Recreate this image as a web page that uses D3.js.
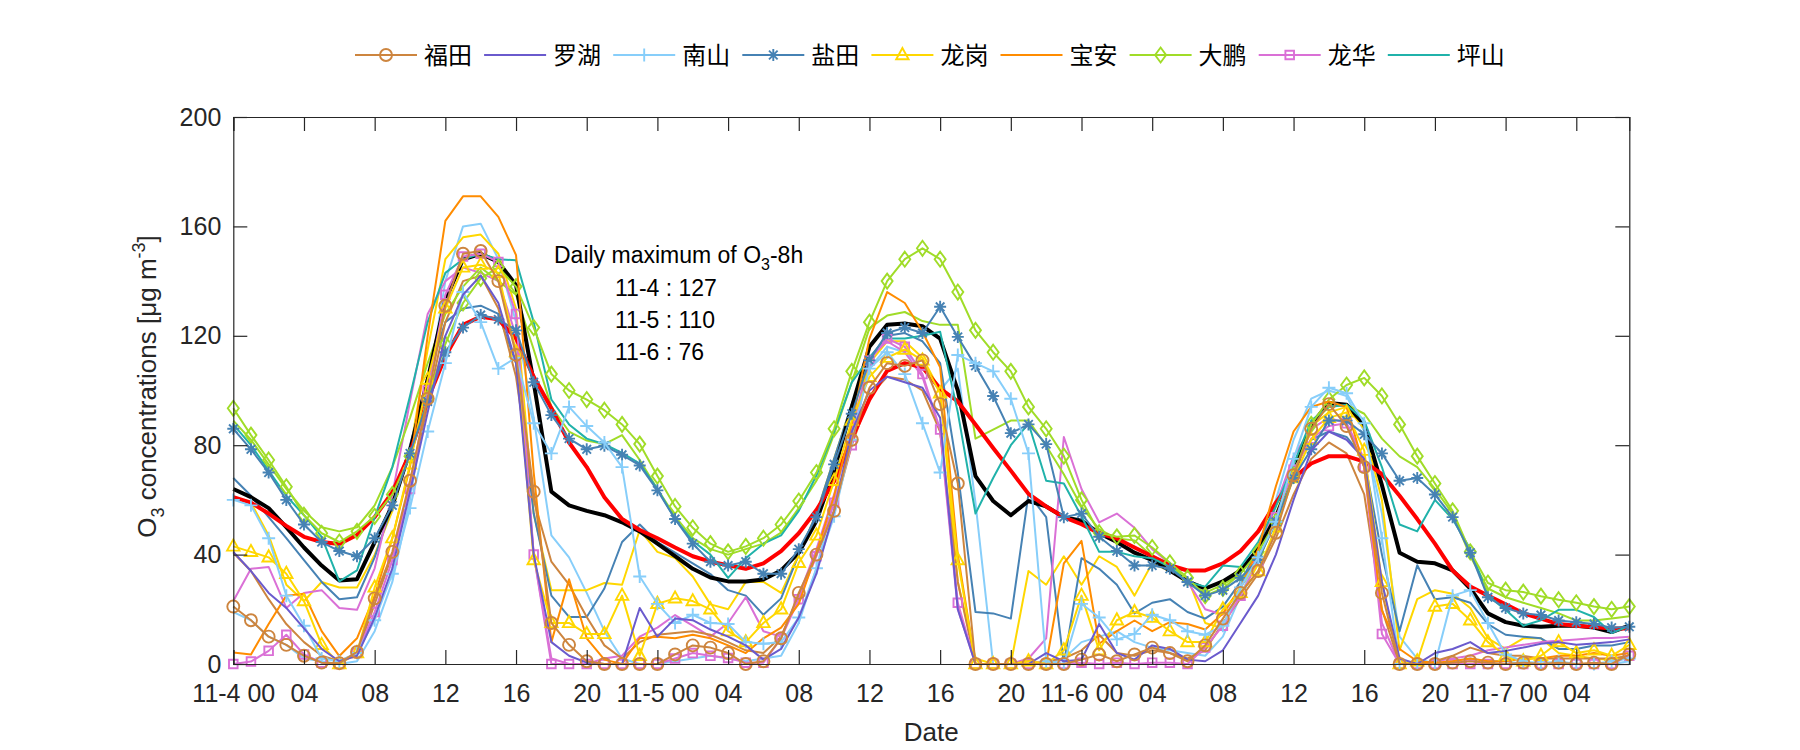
<!DOCTYPE html>
<html><head><meta charset="utf-8">
<script src="https://cdn.jsdelivr.net/npm/d3@7"></script>
<style>
body{margin:0;background:#fff;}
svg{display:block;font-family:"Liberation Sans",Arial,sans-serif;}
</style>
</head><body>
<svg id="chart" width="1800" height="750"></svg>
<script>
// ---------------- DATA ----------------
const hours = d3.range(80); // hourly index from 11-4 00
const tickHours = [0,4,8,12,16,20,24,28,32,36,40,44,48,52,56,60,64,68,72,76];
const tickLabels = ["11-4 00","04","08","12","16","20","11-5 00","04","08","12","16","20","11-6 00","04","08","12","16","20","11-7 00","04"];
const yTicks = [0,40,80,120,160,200];
const stationNames = ["福田","罗湖","南山","盐田","龙岗","宝安","大鹏","龙华","坪山"];

const futian = [21,16,10,7,3,0.5,0.3,4.4, 24,41,67,97,131,150,151,140, 113,63,15,7,1,0,0,0, 0,3.5,6.8,6,4,0,1,9.4,
  26,40,56,82,101,110,109,111, 95,66,0,0,0,0,0,0, 1.6,3.5,1,3.5,6,4,1,6.8, 16.6,26,34,48,69,86,95,87, 72,26,0,0,0,0.5,1,0.5, 0,0.5,0,0.5,0,0.5,0,3.5];
const luohu = [41,34,26,20.5,13,5.5,1,3, 17,35,63,92,120,135,142,132, 110,40,8,3,0.5,0,0,20.5, 10,16.6,16,12.6,10,6.8,1.6,5.5,
  17,33,56,85,100,105,103,101, 90,20,0,0,0,0,4,1, 1.6,14.6,4,1.6,6.8,5.5,1.6,1, 5,15,25,40,60,78,85,82, 75,30,2,0,4,5.5,8,4, 4.8,6,7.4,8,7,7.5,8,9];
const nanshan = [60,58,46,25,14,2,1,4, 16,33,57,85,110,136,125,108, 112,88,77,94,87,81,72,32, 22,15,18,15,14.6,8,7.4,8,
  17,35,54,82,108,114,106,88, 70,113,110,107,97,77,1,0, 22,17,9,11,18,16,12,10.7, 14,28,39,52,75,94,101,99, 88,46,0,0,0,25,27,15, 3.5,1,0,1,0,0,1,2];
const yantian = [86,78.5,70,60,51,44.6,41.3,39.4, 46,58,77,96,114,123,127.6,126, 122,103,91,82.4,78.5,79.8,76.5,72.6, 63.5,53,44,37.4,36,37.4,33,33,
  42,53.7,73,91.5,111,121,123,121, 130.6,119.6,109,98,84.4,87.6,80.4,53.7, 55,46.5,41.3,36,36,34.8,30,25, 27,31.5,38,52,68,78.5,89,89, 84,77,67,68,62,53.7,40.7,24.4, 20.5,18.5,17.9,15.9,15.3,14.6,13.3,13.6];
const longgang = [43,41,39,33,23,7,0,4, 28,46,73,104,130,145,146,143, 114,38,15,15,11,11,25,3, 22,24,23,20,12,8,15,20,
  37,47,67,89,105,112,115,111, 99,38,0,0,0,1,0,5, 25,5,16,19,17,12,8,8, 20,26,34,50,68,82,90,92, 78,30,0,1,21,22,16,8, 3,1,3,8,4,5,3,7];
const baoan = [4.2,3.5,14.6,25,25.7,12,2.9,9.4, 25,46,72,120,162,171,171,163.5, 149.5,70,8,31,9.4,1.6,0,9.4, 10,9.4,10.7,9.4,6.8,4,9.4,13.3,
  22,40.7,61.5,87.6,119,136,132,121.5, 108.5,40,0,0,0,1,0,36.8, 45,7.4,12,15.9,12,15.3,14.6,12.6, 18.5,28,42,65,85,94,96,94, 72,19.5,5.5,1,0.5,1,2,1, 1,2,2,3,3,4,3,4];
const dapeng = [93.5,83.7,74.6,64.8,54.4,47.8,44.6,48.5, 54,62,76,97,117,132,141,145, 138,123,106,100,96.7,92.8,87.6,80.4, 68.7,57.6,49.8,44,41,43,46,51,
  59.6,70,86,107,125,140,148,152, 148,136,122,114,107,94,86,76, 60,48,46.5,47,42.6,37,31.5,25, 27.6,33,41,52,69,87.6,96.7,102, 104.6,98,87.6,76,66,56,41,29.6, 27,26.3,24.8,23.5,22.4,21,20,21];
const longhua = [0,0.9,4.8,10.7,3.5,0.5,0,4, 19,38,64,100,135,149,150,147, 128,40,0,0,0,0,0,0, 0,2,4,3,2.2,0.5,0.5,9.4,
  23.7,39.4,59,80,111,119,116,106, 85.7,22.4,0,0,0,0,0,0, 0.5,0,0.5,0,0.5,0.5,0,6, 14,25,37.4,53.7,71,82.4,87,88, 72,11,0,0,0,0,0,0, 0,0,0,0,0,0,0,3];
const pingshan = [87.6,80,70.7,61.5,54.4,46.5,30.2,34.2, 53.7,72,98,125,143,148,150,148, 147.6,125,96.7,87.6,82.4,80.4,77.2,73.3, 64,53,45,40,31.5,38.7,44,47,
  56,69,85,103,112,119,119,120, 121.5,92,55,68,80,88,67,66, 54,41,41,39.4,38.7,35.5,30,28.3, 36,35.5,44.6,57.6,73,89,94,94.8, 89,72,51,48.5,60,53,42,25, 19.8,14,16,19.8,19.8,17.2,11.3,14];

// other monitoring stations (not in legend), same district colours, no markers
const nanshan2 = [19,16,10,7,2,1,0,1, 12,30,60,100,140,160,161,148, 125,90,47,39,26,12,2,0, 0,1,2,3,2,1,2,3,
  15,35,60,88,108,116,114,108, 100,108,59,0,0,0,0,2, 8,10,12,8,6,5,4,3, 10,25,40,60,82,97,100,98, 85,55,10,2,0,1,2,1, 1,0,1,0,0,0,0,1];
const longgang2 = [61,59,47,29,23,30,28,28, 40,56,78,115,148,156,157,150, 130,55,27,27,27,29.6,29,49, 41,38.7,32,21.8,20,30,30,26,
  40,55,75,95,110,118,118,112, 100,30,2,0,0,34,29,39.4, 29,39.4,35.5,25,36.8,34,31.5,15, 13,28,38,52,70,87,92,94, 86,60,5,23.7,27,25.7,20.5,9.4, 5.5,9.4,9.4,4,3,2,1.5,3];
const yantian2 = [68,61.5,53.7,46,38,30,23.7,24.4, 39,58,80,105,125,130,131,128, 110,55,25,17.2,17.2,27.6,44.6,51, 44.6,40.7,36.8,32.9,27,25,18,24,
  40,55,75,95,112,120,121,118, 110,70,19,18.5,16.6,62.2,53.7,0, 38.7,34.8,29,18.5,22.4,23.7,19,16.6, 21,30,42,58,72,82,85,83, 75,40,12,36.1,23.7,24.4,22.4,14.6, 10.7,10,9.4,5.5,5.5,6.8,6.8,8];
const longhua2 = [23,34.8,35.5,20.5,26,27,20.5,19.8, 35,62,96,128,140,145,143,140, 120,40,2,0,0,2,3,10, 13.3,17.9,14,10,15,24.4,12,10,
  25,42,62,85,112,118,114,105, 85,20,0,0,0,2,9.4,83, 64,51.8,55,49.8,42,36.8,30.2,20, 18,28,40,58,76,86,90,88, 75,15,0,0,1,2,3,5, 6,7,8,8.5,9,9.5,9.5,10];
const futian2 = [40.7,34,23.7,14.6,8,3,1,4, 22,40,65,95,125,140,142,130, 105,60,37.4,29,17.2,6.8,2,8, 10.7,11.3,12,10.7,8,5,4,10,
  25,40,56,80,98,105,104,100, 85,30,0,0,0,0,1,2, 5,10.7,4,3,5,4,2,5, 15,24,33,46,62,75,81,77, 62,20,0,0,1,3,6,4, 3,3,2,2,2,2,2,3];
const dapeng2 = [89,82,73,64,56,50,48.5,50, 58,72,90,110,128,138,145,140, 135,115,94,85,81.7,80.4,83.7,74.6, 64,54,46,42,40,42,44,48,
  57,67,84,103,122.8,127.4,128.7,125.4, 124,124,82.4,85.7,89,89,79.8,69.4, 57.6,49.2,45.9,45.2,39.4,36.8,30.2,26, 29,33,42,55,72,88,94,94.8, 91.5,82.4,75.9,72,64,55,39.4,27.6, 24.4,22.4,20.5,18.5,15.9,15.9,16.6,17.5];

const meanO3 = [64,61,57,50,42.6,36,30.5,31, 44.6,58,78,104,133,148,150,147, 138.5,103,63,58,56,54.4,51.8,48.5, 44,39.4,34.8,31.6,30.2,30.2,30.9,34.2,
  40.7,52.4,70.7,94,116,124,124.5,123.5, 119,100,68.7,59.6,54.4,59.6,57.6,53.7, 52.4,47.8,44.6,40.7,38,34.2,30.2,27.6, 30.2,34.2,42,53.7,69.4,87.6,95.4,94.8, 87.6,65.4,40.7,37.4,36.8,34.2,27.6,18.5, 15.3,14,13.6,14,14,13.3,11.7,14];
const o3_8h = [61,59,55,50.5,46.5,44.6,43.9,47.2, 53.7,62.8,77.2,96.7,112.4,124,127,126, 119,105,93.5,81,72,61,53,49, 46,42.6,39.4,37.4,36.1,34.8,36.8,41.3,
  47.8,56.3,66.8,82.4,96.7,107.2,110,108.5, 100.7,96,87.6,79,70.7,62.2,57.6,53.7, 51.1,47.8,45.9,42.6,39.4,36.1,34.2,34.2, 36.8,41.3,48.5,59,68,73.3,76,76, 74,69.4,61.5,53,44,34.2,28.3,25, 21.8,18.5,16.6,14.6,14,13.5,13,13];

const annotTitle = "Daily maximum of O";
const annotLines = ["11-4 : 127","11-5 : 110","11-6 : 76"];

// ---------------- STYLE ----------------
const W = 1800, H = 750;
const P = {left:233.3, right:1629.3, top:117, bottom:664};
const axisColor = "#262626";

const stations = [
  {name:stationNames[0], data:futian,   color:"#CD853F", marker:"o"},
  {name:stationNames[1], data:luohu,    color:"#6A5ACD", marker:null},
  {name:stationNames[2], data:nanshan,  color:"#87CEFA", marker:"+"},
  {name:stationNames[3], data:yantian,  color:"#4682B4", marker:"*"},
  {name:stationNames[4], data:longgang, color:"#FFD700", marker:"^"},
  {name:stationNames[5], data:baoan,    color:"#FF8C00", marker:null},
  {name:stationNames[6], data:dapeng,   color:"#A0DC28", marker:"d"},
  {name:stationNames[7], data:longhua,  color:"#DA70D6", marker:"s"},
  {name:stationNames[8], data:pingshan, color:"#20B2AA", marker:null}
];
const extras = [
  {data:nanshan2, color:"#87CEFA"},
  {data:longgang2, color:"#FFD700"},
  {data:yantian2, color:"#4682B4"},
  {data:longhua2, color:"#DA70D6"},
  {data:futian2, color:"#CD853F"},
  {data:dapeng2, color:"#A0DC28"}
];

function markerPath(m){
  switch(m){
    case "o": { const r=6; return `M${r},0A${r},${r} 0 1,1 ${-r},0A${r},${r} 0 1,1 ${r},0Z`; }
    case "+": { const s=6.5; return `M${-s},0H${s}M0,${-s}V${s}`; }
    case "*": { const s=6, d=4.3; return `M${-s},0H${s}M0,${-s}V${s}M${-d},${-d}L${d},${d}M${-d},${d}L${d},${-d}`; }
    case "^": { return "M0,-7L6.2,4.2L-6.2,4.2Z"; }
    case "d": { return "M0,-7.5L5.5,0L0,7.5L-5.5,0Z"; }
    case "s": { return "M-4.3,-4.3H4.3V4.3H-4.3Z"; }
  }
  return "";
}

// ---------------- CHART ----------------
const svg = d3.select("#chart");
svg.append("rect").attr("width",W).attr("height",H).attr("fill","#fff");

const x = d3.scaleLinear().domain([0,79]).range([P.left,P.right]);
const y = d3.scaleLinear().domain([0,200]).range([P.bottom,P.top]);
const line = d3.line().x((d,i)=>x(hours[i])).y(d=>y(d));

const plot = svg.append("g");

extras.forEach(s=>{
  plot.append("path").attr("d",line(s.data)).attr("fill","none")
    .attr("stroke",s.color).attr("stroke-width",2).attr("stroke-linejoin","round");
});
plot.append("path").attr("d",line(meanO3)).attr("fill","none")
  .attr("stroke","#000").attr("stroke-width",4).attr("stroke-linejoin","round");
plot.append("path").attr("d",line(o3_8h)).attr("fill","none")
  .attr("stroke","#FF0000").attr("stroke-width",4).attr("stroke-linejoin","round");

stations.slice().reverse().forEach(s=>{
  const g = plot.append("g");
  g.append("path").attr("d",line(s.data)).attr("fill","none")
    .attr("stroke",s.color).attr("stroke-width",2).attr("stroke-linejoin","round");
  if(s.marker){
    g.selectAll("path.m").data(s.data).join("path").attr("class","m")
      .attr("transform",(d,i)=>`translate(${x(hours[i])},${y(d)})`)
      .attr("d",markerPath(s.marker)).attr("fill","none")
      .attr("stroke",s.color).attr("stroke-width",1.9);
  }
});

// axes (box with inward ticks)
const fs = 25;
const xAxis = d3.axisBottom(x).tickValues(tickHours).tickFormat((d,i)=>tickLabels[i]).tickSize(-14).tickPadding(20);
const gx = svg.append("g").attr("transform",`translate(0,${P.bottom})`).call(xAxis);
const xTop = d3.axisTop(x).tickValues(tickHours).tickFormat("").tickSize(-14);
const gxt = svg.append("g").attr("transform",`translate(0,${P.top})`).call(xTop);
const yAxis = d3.axisLeft(y).tickValues(yTicks).tickFormat(d3.format("d")).tickSize(-14).tickPadding(12);
const gy = svg.append("g").attr("transform",`translate(${P.left},0)`).call(yAxis);
const yRight = d3.axisRight(y).tickValues(yTicks).tickFormat("").tickSize(-14);
const gyr = svg.append("g").attr("transform",`translate(${P.right},0)`).call(yRight);
[gx,gxt,gy,gyr].forEach(g=>{
  g.select(".domain").attr("stroke",axisColor).attr("stroke-width",1.2);
  g.selectAll(".tick line").attr("stroke",axisColor).attr("stroke-width",1.2);
  g.selectAll("text").attr("fill",axisColor).style("font-size",fs+"px")
    .style("font-family","'Liberation Sans',Arial,sans-serif");
});

// axis titles
svg.append("text").attr("x",(P.left+P.right)/2).attr("y",741).attr("text-anchor","middle")
  .style("font-size","26px").attr("fill",axisColor).text("Date");

const yl = svg.append("text").attr("transform",`translate(156,${(P.top+P.bottom)/2 - 4}) rotate(-90)`)
  .attr("text-anchor","middle").style("font-size","26px").attr("fill",axisColor);
yl.append("tspan").text("O");
yl.append("tspan").attr("dy",8).style("font-size","18px").text("3");
yl.append("tspan").attr("dy",-8).text(" concentrations [");
yl.append("tspan").text("\u03BC");
yl.append("tspan").text("g m");
yl.append("tspan").attr("dy",-11).style("font-size","18px").text("-3");
yl.append("tspan").attr("dy",11).text("]");

// annotation
const at = svg.append("text").attr("x",554).attr("y",263).style("font-size","23px").attr("fill","#000");
at.append("tspan").text(annotTitle);
at.append("tspan").attr("dy",7).style("font-size","16px").text("3");
at.append("tspan").attr("dy",-7).text("-8h");
annotLines.forEach((t,i)=>{
  svg.append("text").attr("x",615).attr("y",296+i*32).style("font-size","23px").attr("fill","#000").text(t);
});

// legend
const leg = svg.append("g");
stations.forEach((s,i)=>{
  const x0 = 355 + i*129.1, yc = 55;
  const g = leg.append("g");
  g.append("line").attr("x1",x0).attr("x2",x0+62).attr("y1",yc).attr("y2",yc)
    .attr("stroke",s.color).attr("stroke-width",2);
  if(s.marker){
    g.append("path").attr("transform",`translate(${x0+31},${yc})`).attr("d",markerPath(s.marker))
      .attr("fill","none").attr("stroke",s.color).attr("stroke-width",1.9);
  }
  g.append("text").attr("x",x0+69).attr("y",yc+9).style("font-size","24px")
    .style("font-family","'Noto Sans CJK SC',sans-serif").attr("fill","#000").text(s.name);
});
</script>
</body></html>
